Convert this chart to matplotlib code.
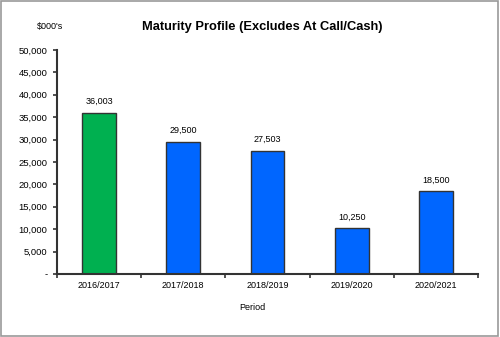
import matplotlib
matplotlib.use("Agg")
import matplotlib.pyplot as plt
from matplotlib.patches import Rectangle
from matplotlib.ticker import FuncFormatter, MultipleLocator

periods = ["2016/2017", "2017/2018", "2018/2019", "2019/2020", "2020/2021"]
values = [36003, 29500, 27503, 10250, 18500]
bar_colors = ["#00B050", "#0066FF", "#0066FF", "#0066FF", "#0066FF"]

plt.rcParams["font.family"] = ["Liberation Sans", "DejaVu Sans"]

fig = plt.figure(figsize=(5.0, 3.37), dpi=100)
ax = fig.add_axes([57 / 500, 1 - 274 / 337, (478 - 57) / 500, (274 - 50) / 337])

x = list(range(len(periods)))
ax.bar(x, values, width=0.4, color=bar_colors, edgecolor="#333333", linewidth=1.0, zorder=2)
for xi, v in zip(x, values):
    ax.text(xi, v + 1500, f"{v:,}", ha="center", va="bottom", fontsize=6.5)

ax.set_xlim(-0.5, len(periods) - 0.5)
ax.set_ylim(0, 50000)
ax.yaxis.set_major_locator(MultipleLocator(5000))
ax.yaxis.set_major_formatter(FuncFormatter(lambda v, p: "-" if v == 0 else f"{int(v):,}"))
ax.set_xticks(x)
ax.set_xticklabels(periods)
ax.set_xticks([i - 0.5 for i in range(len(periods) + 1)], minor=True)
ax.tick_params(axis="x", which="major", length=0, labelsize=6.5, pad=5)
ax.tick_params(axis="x", which="minor", length=3, width=1.2, color="#333333")
ax.tick_params(axis="y", length=3, width=1.2, color="#333333", labelsize=6.8, pad=4)

for s in ["top", "right"]:
    ax.spines[s].set_visible(False)
for s in ["left", "bottom"]:
    ax.spines[s].set_color("#333333")
    ax.spines[s].set_linewidth(1.5)

fig.text(262 / 500, 1 - 27 / 337, "Maturity Profile (Excludes At Call/Cash)",
         ha="center", va="center", fontsize=9.3, fontweight="bold")
fig.text(50 / 500, 1 - 27 / 337, "$000's", ha="center", va="center", fontsize=6.5)
fig.text(252 / 500, 1 - 307 / 337, "Period", ha="center", va="center", fontsize=6.5)

fig.patches.append(Rectangle((0.002, 0.004), 0.993, 0.993, transform=fig.transFigure,
                             fill=False, edgecolor="#999999", linewidth=1.2))

fig.savefig("out.png", dpi=100)
